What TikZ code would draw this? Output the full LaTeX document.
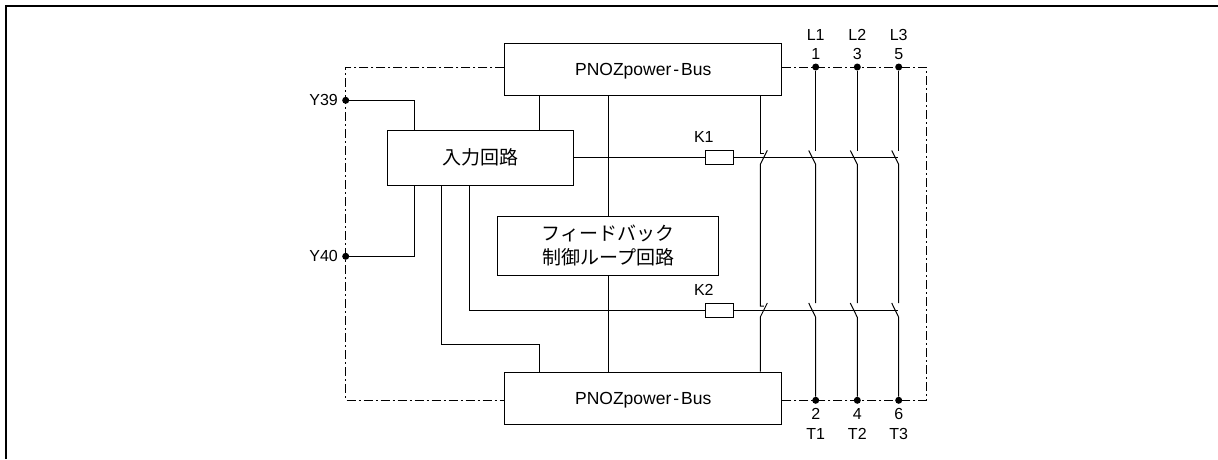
\documentclass[tikz,border=0pt]{standalone}
\usepackage{fontspec}
\setmainfont{Liberation Sans}
\newfontfamily\cjk{Noto Sans CJK JP}
\usetikzlibrary{positioning,calc}
\tikzset{
  blockbox/.style={draw, line width=1pt, inner sep=0pt, font=\fontsize{17.5}{17.5}\selectfont},
  cjkbox/.style={blockbox, font=\fontsize{19}{24}\selectfont\cjk},
  dot/.style={circle, fill=black, inner sep=0pt, minimum size=7pt},
  lbl/.style={inner sep=0pt, font=\fontsize{16}{16}\selectfont},
  wire/.style={line width=1pt},
  bound/.style={line width=.8pt, dash pattern=on 9pt off 3pt on 2pt off 3pt}
}
\begin{document}
\begin{tikzpicture}[x=1pt,y=-1pt]
\useasboundingbox (0,0) rectangle (1218,459);
\draw[line width=2pt] (5.5,459) -- (5.5,5.5) -- (1218,5.5);

% blocks
\node[blockbox, text depth=0pt, minimum width=276.6pt, minimum height=52pt] (bustop) at (643.2,69) {PNOZpower\kern2pt-\kern2pt Bus};
\node[blockbox, text depth=0pt, minimum width=276.6pt, minimum height=52pt] (busbot) at (643.2,398) {PNOZpower\kern2pt-\kern2pt Bus};
\node[cjkbox, minimum width=186.7pt, minimum height=55pt] (inbox) at (480.6,157.5) {入力回路};
\node[cjkbox, minimum width=221.3pt, minimum height=59pt, align=center] (fbbox) at (608.3,245.8)
  {フィードバック\\制御ループ回路};
\node[blockbox, minimum width=27.7pt, minimum height=14pt] (k1) at (719.2,157.3) {};
\node[blockbox, minimum width=27.7pt, minimum height=14pt] (k2) at (719.2,310) {};

% terminals
\node[dot] (y39) at (345.7,100.3) {};
\node[dot] (y40) at (345.7,256.3) {};
\node[dot] (l1) at (815.7,67) {};
\node[dot] (l2) at (857.3,67) {};
\node[dot] (l3) at (898.7,67) {};
\node[dot] (t1) at (815.7,400.3) {};
\node[dot] (t2) at (857.3,400.3) {};
\node[dot] (t3) at (898.7,400.3) {};

\node[lbl, left=4pt of y39] {Y39};
\node[lbl, left=4pt of y40] {Y40};
\node[lbl, above=7pt of k1.north west, xshift=-1pt] {K1};
\node[lbl, above=7pt of k2.north west, xshift=-1pt] {K2};
\foreach \t/\top/\num in {l1/L1/1, l2/L2/3, l3/L3/5} {
  \node[lbl] at ($(\t)+(0,-13)$) {\num};
  \node[lbl] at ($(\t)+(0,-32)$) {\top};
}
\foreach \t/\bot/\num in {t1/T1/2, t2/T2/4, t3/T3/6} {
  \node[lbl] at ($(\t)+(0,14)$) {\num};
  \node[lbl] at ($(\t)+(0,34)$) {\bot};
}

% dash-dot housing
\coordinate (cnw) at (345.7,67);
\coordinate (csw) at (345.7,400.3);
\coordinate (cne) at (926,67);
\coordinate (cse) at (926,400.3);
\draw[bound] (bustop.west |- cnw) -- (cnw) -- (csw) -- (busbot.west |- csw);
\draw[bound] (bustop.east |- cne) -- (cne) -- (cse) -- (busbot.east |- cse);

% input wiring
\coordinate (xa) at (414.3,0);
\coordinate (xb) at (441.7,0);
\coordinate (xc) at (469.7,0);
\coordinate (xd) at (539.3,0);
\coordinate (xe) at (608.3,0);
\draw[wire] (y39) -| (inbox.north -| xa);
\draw[wire] (y40) -| (inbox.south -| xa);
\draw[wire] (bustop.south -| xd) -- (inbox.north -| xd);
\draw[wire] (bustop.south -| xe) -- (fbbox.north -| xe);
\draw[wire] (fbbox.south -| xe) -- (busbot.north -| xe);
\draw[wire] (inbox.south -| xb) |- (539.3,344.7) -- (busbot.north -| xd);
\draw[wire] (inbox.south -| xc) |- (k2.west);
\draw[wire] (inbox.east |- k1) -- (k1.west);

% coil lines
\coordinate (ea) at (898,157.3);
\coordinate (eb) at (898,310);
\draw[wire] (k1.east) -- (ea);
\draw[wire] (k2.east) -- (eb);

% main contacts
\foreach \t/\b in {l1/t1, l2/t2, l3/t3} {
  \draw[wire] (\t) -- ($(\t)+(0,83.5)$);
  \draw[wire] ($(\t)+(-7,83.5)$) -- ($(\t)+(0,97.3)$) -- ($(\b)+(0,-97.3)$);
  \draw[wire] ($(\b)+(-7,-97.3)$) -- ($(\b)+(0,-83)$) -- (\b);
}

% feedback contacts
\coordinate (xf) at (760.3,0);
\draw[wire] (bustop.south -| xf) -- (760.3,153.3) -- (763.8,153.3);
\draw[wire] (767.3,150.3) -- (760.3,164.3) -- (760.3,306) -- (763.8,306);
\draw[wire] (767.3,303) -- (760.3,317) -- (busbot.north -| xf);
\end{tikzpicture}
\end{document}
